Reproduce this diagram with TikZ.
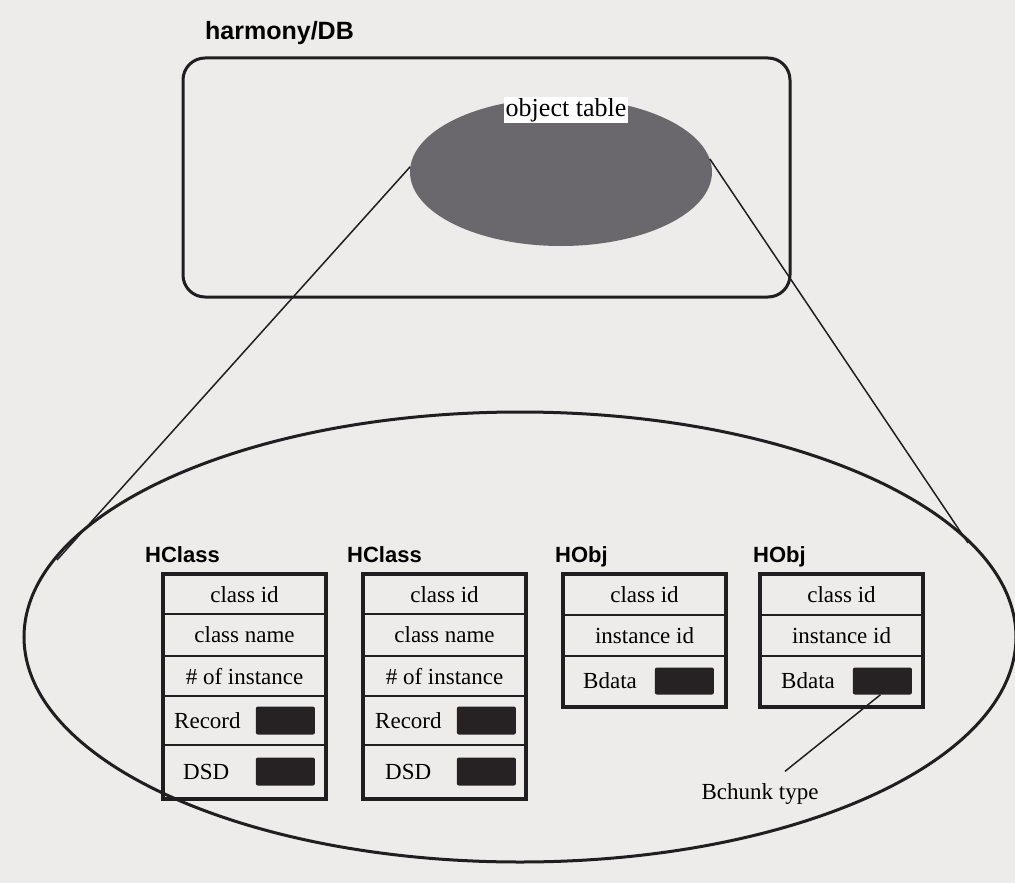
\documentclass[tikz,border=0pt]{standalone}
\usepackage{fontspec}
\setmainfont{Liberation Serif}
\newfontfamily\labelfont{Liberation Sans}
\usetikzlibrary{shapes.geometric}
\definecolor{paper}{RGB}{237,236,234}
\definecolor{ink}{RGB}{32,30,32}
\definecolor{shade}{RGB}{106,104,108}
\definecolor{chunk}{RGB}{38,34,36}
\begin{document}
\begin{tikzpicture}[x=1pt,y=-1pt,
  cell/.style={draw=ink, line width=2.1pt, minimum width=161pt, inner sep=0pt, anchor=north west, font=\fontsize{23}{26}\selectfont},
  outerline/.style={draw=ink, line width=3.2pt},
  chunkbox/.style={fill=chunk, minimum width=59pt, minimum height=28pt, inner sep=0pt, rounded corners=2pt, anchor=east},
  celltext/.style={anchor=west, inner sep=0pt, font=\fontsize{23}{26}\selectfont},
  typelabel/.style={anchor=base west, inner sep=0pt, font=\labelfont\bfseries\fontsize{22}{24}\selectfont},
  link/.style={draw=ink, line width=1.5pt}
]
\useasboundingbox (0,0) rectangle (1015,883);
\fill[paper] (0,0) rectangle (1015,883);

% title and database box
\node[anchor=base west, inner sep=0pt, font=\labelfont\bfseries\fontsize{25}{28}\selectfont] (title) at (205,40) {harmony/DB};
\node[draw=ink, line width=3pt, rounded corners=22pt, minimum width=607pt, minimum height=239pt, inner sep=0pt] (db) at (486.5,177.5) {};

% object table ellipse
\node[ellipse, fill=shade, minimum width=302pt, minimum height=148pt, inner sep=0pt] (otab) at (561,172) {};
\node[fill=white, inner sep=1.5pt, font=\fontsize{26}{28}\selectfont] (otlabel) at (566,110) {object table};

% enlarged view
\node[ellipse, draw=ink, line width=3pt, minimum width=992pt, minimum height=450pt, inner sep=0pt] (detail) at (520,637) {};
\coordinate (lend) at (57,560);
\coordinate (rend) at (968,543);
\draw[link] (otab.178) -- (lend);
\draw[link] (otab.5) -- (rend);

% HClass 1
\node[typelabel] (h1) at (145,562) {HClass};
\node[cell, minimum height=39pt] (c11) at (163,574) {class id};
\node[cell, minimum height=42pt] (c12) at (163,613) {class name};
\node[cell, minimum height=40pt] (c13) at (163,655) {\# of instance};
\node[cell, minimum height=49pt] (c14) at (163,695) {};
\node[cell, minimum height=53pt] (c15) at (163,744) {};
\node[celltext] (r1) at ([xshift=11pt]c14.west) {Record};
\node[chunkbox] (k14) at ([xshift=-11pt]c14.east) {};
\node[celltext] (d1) at ([xshift=20pt]c15.west) {DSD};
\node[chunkbox] (k15) at ([xshift=-11pt]c15.east) {};
\draw[outerline] (c11.north west) rectangle (c15.south east);

% HClass 2
\node[typelabel] (h2) at (347,562) {HClass};
\node[cell, minimum height=39pt] (c21) at (363,574) {class id};
\node[cell, minimum height=42pt] (c22) at (363,613) {class name};
\node[cell, minimum height=40pt] (c23) at (363,655) {\# of instance};
\node[cell, minimum height=49pt] (c24) at (363,695) {};
\node[cell, minimum height=53pt] (c25) at (363,744) {};
\node[celltext] (r2) at ([xshift=12pt]c24.west) {Record};
\node[chunkbox] (k24) at ([xshift=-10pt]c24.east) {};
\node[celltext] (d2) at ([xshift=22pt]c25.west) {DSD};
\node[chunkbox] (k25) at ([xshift=-10pt]c25.east) {};
\draw[outerline] (c21.north west) rectangle (c25.south east);

% HObj 1
\node[typelabel] (h3) at (555,562) {HObj};
\node[cell, minimum height=40pt] (c31) at (563,574) {class id};
\node[cell, minimum height=41pt] (c32) at (563,614) {instance id};
\node[cell, minimum height=50pt] (c33) at (563,655) {};
\node[celltext] (b3) at ([xshift=20pt]c33.west) {Bdata};
\node[chunkbox, minimum height=27pt] (k33) at ([xshift=-12pt]c33.east) {};
\draw[outerline] (c31.north west) rectangle (c33.south east);

% HObj 2
\node[typelabel] (h4) at (753,562) {HObj};
\node[cell, minimum height=40pt] (c41) at (760,574) {class id};
\node[cell, minimum height=41pt] (c42) at (760,614) {instance id};
\node[cell, minimum height=50pt] (c43) at (760,655) {};
\node[celltext] (b4) at ([xshift=21pt]c43.west) {Bdata};
\node[chunkbox, minimum height=27pt] (k43) at ([xshift=-11pt]c43.east) {};
\draw[outerline] (c41.north west) rectangle (c43.south east);

% Bchunk type annotation
\node[inner sep=0pt, font=\fontsize{23}{26}\selectfont] (bct) at (760,794) {Bchunk type};
\draw[link] ([xshift=-2pt]k43.south) -- ([xshift=25pt,yshift=12pt]bct.north);
\end{tikzpicture}
\end{document}
